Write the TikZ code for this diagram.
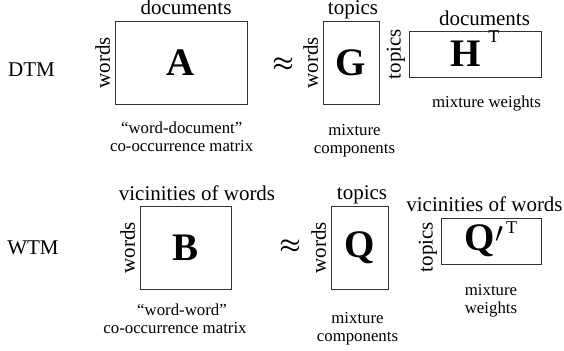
\documentclass[tikz,border=0pt]{standalone}
\usepackage{fontspec}
\setmainfont{Liberation Serif}
\usetikzlibrary{positioning}

\begin{document}
\begin{tikzpicture}[x=0.5pt,y=-0.5pt,
    mat/.style={draw=black!80,line width=0.5pt,inner sep=0pt,font=\fontsize{19.5}{20}\selectfont\bfseries},
    toplbl/.style={inner sep=0pt,text depth=0pt,font=\fontsize{10.5}{12}\selectfont},
    sidelbl/.style={inner sep=1pt,rotate=90,anchor=south,font=\fontsize{10.5}{12}\selectfont},
    capt/.style={inner sep=0pt,align=center,font=\fontsize{8.4}{9.2}\selectfont},
    rowlbl/.style={font=\fontsize{10.5}{12}\selectfont},
    approx/.style={inner sep=0pt,font=\fontsize{12}{12}\selectfont\boldmath}]
  \useasboundingbox (0,0) rectangle (564,350);

  % DTM row
  \node[rowlbl] (dtm) at (31.5,69.5) {DTM};
  \node[mat,minimum width=66pt,minimum height=41.5pt] (A) at (181,62.5) {A};
  \node[toplbl,above=3pt of A,xshift=2.5pt] (docA) {documents};
  \node[sidelbl] (wordsA) at ([xshift=-1pt]A.west) {words};
  \node[capt,below=8.5pt of A,xshift=0.35pt] (captA) {``word-document''\\co-occurrence matrix};

  \node[approx] (eq1) at (283,64) {$\approx$};

  \node[mat,minimum width=28pt,minimum height=41.5pt] (G) at (351,62.5) {G};
  \node[toplbl,above=3pt of G,xshift=1pt] (topG) {topics};
  \node[sidelbl] (wordsG) at ([xshift=-1pt]G.west) {words};
  \node[capt,below=9.5pt of G,xshift=1.75pt] (captG) {mixture\\components};

  \node[mat,minimum width=66pt,minimum height=23pt] (H) at (475,54)
    {H\hspace{3.8pt}\raisebox{11.95pt}[0pt][0pt]{\fontsize{9}{9}\selectfont\mdseries T}};
  \node[toplbl,above=2.25pt of H,xshift=4.75pt] (docH) {documents};
  \node[sidelbl] (topH) at ([xshift=-0.5pt]H.west) {topics};
  \node[capt,below=9pt of H,xshift=5.75pt] (captH) {mixture weights};

  % WTM row
  \node[rowlbl] (wtm) at (33,247.5) {WTM};
  \node[mat,minimum width=45.5pt,minimum height=41.5pt] (B) at (185.5,247.5) {B};
  \node[toplbl,above=2.5pt of B,xshift=5.75pt] (vicB) {vicinities of words};
  \node[sidelbl] (wordsB) at ([xshift=-1pt]B.west) {words};
  \node[capt,below=7pt of B,xshift=-5.25pt] (captB) {\hspace*{7pt}``word-word''\\co-occurrence matrix};

  \node[approx] (eq2) at (290,246.5) {$\approx$};

  \node[mat,minimum width=28.5pt,minimum height=41.5pt] (Q) at (359.5,247.5) {Q};
  \node[toplbl,above=3pt of Q,xshift=1.25pt] (topQ) {topics};
  \node[sidelbl] (wordsQ) at ([xshift=-1pt]Q.west) {words};
  \node[capt,below=11pt of Q,xshift=-1pt] (captQ) {mixture\\components};

  \node[mat,minimum width=50pt,minimum height=23pt] (Qp) at (491,241)
    {Q\smash{\raisebox{-3.5pt}{$'$}}\hspace{1pt}\raisebox{8.5pt}[0pt][0pt]{\fontsize{9}{9}\selectfont\mdseries T}};
  \node[toplbl,above=3pt of Qp,xshift=-3.25pt] (vicQp) {vicinities of words};
  \node[sidelbl] (topQp) at ([xshift=-0.5pt,yshift=-3pt]Qp.west) {topics};
  \node[capt,below=9.5pt of Qp] (captQp) {mixture\\weights};
\end{tikzpicture}
\end{document}
